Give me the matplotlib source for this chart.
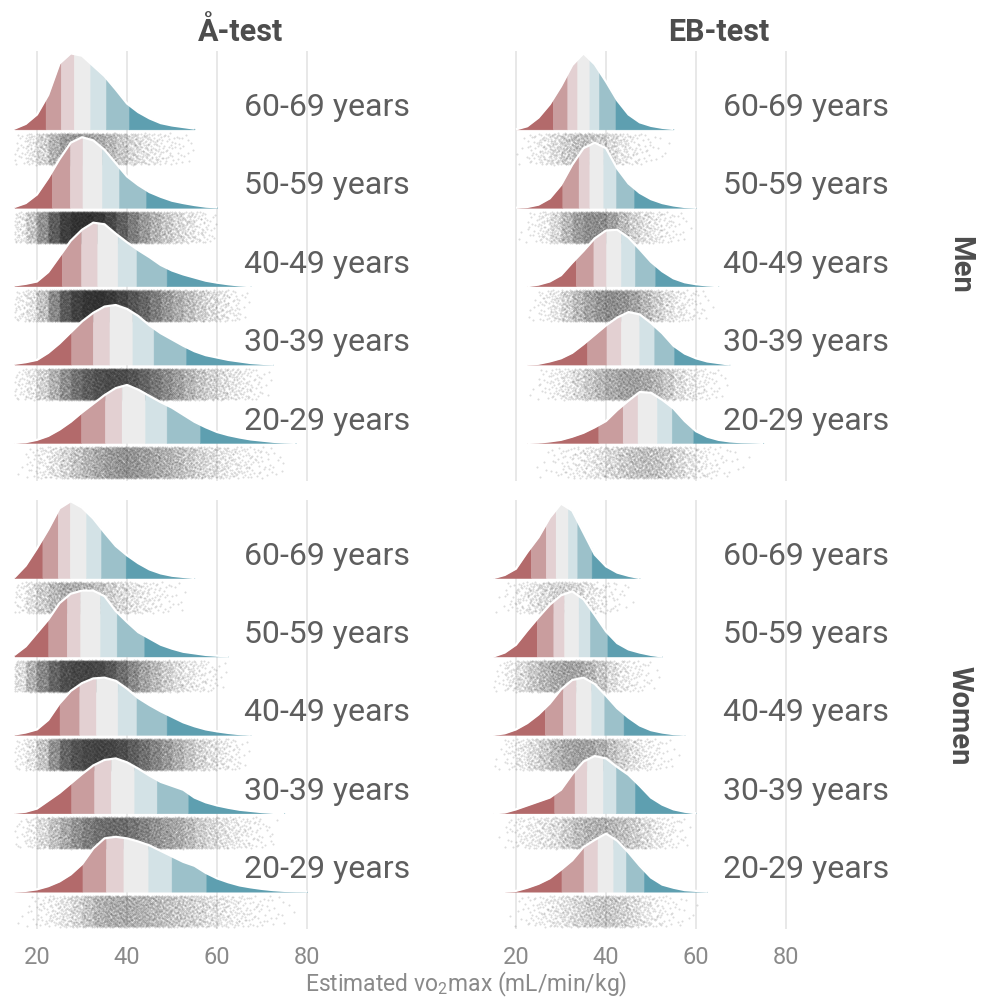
import numpy as np
import matplotlib.pyplot as plt

plt.rcParams['font.family'] = ['Roboto', 'DejaVu Sans']
plt.rcParams['mathtext.fontset'] = 'custom'
plt.rcParams['mathtext.rm'] = 'Roboto'

# rows from bottom to top
ages = ['20-29 years', '30-39 years', '40-49 years', '50-59 years', '60-69 years']
tests = ['Å-test', 'EB-test']
sexes = ['Men', 'Women']
step = 2.5  # density heights are read every 2.5 mL/min/kg

# Å-test, men
atest_men_start = [15, 15, 15, 15, 15]
atest_men_dens = [
    [0.0, 0.01, 0.04, 0.09, 0.17, 0.27, 0.39, 0.50, 0.61, 0.70, 0.74, 0.68, 0.60, 0.52, 0.45, 0.36,
     0.27, 0.20, 0.14, 0.10, 0.07, 0.045, 0.03, 0.015, 0.005, 0.0],
    [0.01, 0.03, 0.06, 0.15, 0.27, 0.41, 0.55, 0.66, 0.74, 0.76, 0.71, 0.62, 0.50, 0.40, 0.32, 0.24,
     0.17, 0.12, 0.09, 0.06, 0.04, 0.02, 0.01, 0.0],
    [0.01, 0.03, 0.06, 0.18, 0.38, 0.58, 0.72, 0.81, 0.79, 0.67, 0.56, 0.46, 0.37, 0.27, 0.20, 0.15,
     0.11, 0.07, 0.045, 0.025, 0.01, 0.0],
    [0.01, 0.06, 0.17, 0.38, 0.62, 0.83, 0.90, 0.86, 0.74, 0.57, 0.40, 0.29, 0.20, 0.14, 0.09, 0.06,
     0.035, 0.015, 0.005],
    [0.01, 0.07, 0.19, 0.44, 0.84, 0.97, 0.94, 0.81, 0.68, 0.51, 0.33, 0.22, 0.14, 0.08, 0.05, 0.03, 0.01],
]
atest_men_cuts = [
    [29.8, 35.1, 38.8, 44.0, 48.8, 56.2],
    [27.6, 32.4, 36.1, 41.2, 45.9, 53.1],
    [25.5, 29.8, 33.4, 37.9, 42.1, 48.8],
    [23.3, 27.3, 30.1, 34.4, 38.2, 44.2],
    [21.9, 25.3, 28.2, 31.8, 35.3, 40.4],
]
atest_men_n = [4000, 9000, 11000, 10000, 2600]

# EB-test, men
ebtest_men_start = [22.5, 22.5, 22.5, 20, 20]
ebtest_men_dens = [
    [0.0, 0.005, 0.02, 0.04, 0.08, 0.13, 0.20, 0.28, 0.42, 0.54, 0.65, 0.64, 0.55, 0.44, 0.28, 0.15,
     0.08, 0.04, 0.02, 0.01, 0.005, 0.0],
    [0.0, 0.01, 0.04, 0.08, 0.15, 0.26, 0.38, 0.50, 0.60, 0.67, 0.64, 0.53, 0.40, 0.24, 0.14, 0.08,
     0.04, 0.02, 0.0],
    [0.0, 0.02, 0.06, 0.14, 0.30, 0.45, 0.61, 0.71, 0.72, 0.62, 0.47, 0.31, 0.19, 0.10, 0.05, 0.025,
     0.01, 0.0],
    [0.0, 0.01, 0.04, 0.12, 0.29, 0.55, 0.76, 0.83, 0.76, 0.50, 0.31, 0.19, 0.11, 0.06, 0.03, 0.01, 0.0],
    [0.0, 0.04, 0.15, 0.32, 0.55, 0.82, 0.97, 0.83, 0.61, 0.37, 0.19, 0.09, 0.045, 0.02, 0.005],
]
ebtest_men_cuts = [
    [38.3, 43.7, 47.0, 51.3, 54.6, 59.4],
    [35.8, 40.1, 43.3, 47.4, 50.7, 55.1],
    [33.3, 37.2, 40.0, 43.3, 46.4, 50.9],
    [30.3, 33.9, 36.3, 39.4, 42.2, 46.2],
    [28.2, 31.4, 33.6, 36.3, 38.4, 42.1],
]
ebtest_men_n = [1500, 2600, 3000, 2600, 1100]

# Å-test, women
atest_women_start = [15, 15, 15, 15, 15]
atest_women_dens = [
    [0.0, 0.01, 0.03, 0.07, 0.13, 0.22, 0.35, 0.55, 0.68, 0.70, 0.68, 0.64, 0.59, 0.52, 0.45, 0.38,
     0.33, 0.24, 0.17, 0.12, 0.08, 0.055, 0.035, 0.02, 0.01, 0.005, 0.0],
    [0.005, 0.02, 0.06, 0.16, 0.26, 0.38, 0.50, 0.61, 0.68, 0.70, 0.65, 0.57, 0.48, 0.40, 0.35, 0.30,
     0.20, 0.14, 0.10, 0.07, 0.045, 0.03, 0.015, 0.005, 0.0],
    [0.005, 0.03, 0.07, 0.19, 0.40, 0.56, 0.66, 0.72, 0.73, 0.69, 0.59, 0.47, 0.38, 0.30, 0.23, 0.16,
     0.11, 0.07, 0.045, 0.025, 0.01, 0.0],
    [0.02, 0.13, 0.30, 0.47, 0.68, 0.80, 0.84, 0.84, 0.77, 0.58, 0.44, 0.31, 0.23, 0.15, 0.10, 0.06,
     0.04, 0.02, 0.01, 0.0],
    [0.01, 0.16, 0.38, 0.62, 0.89, 0.98, 0.90, 0.76, 0.58, 0.41, 0.29, 0.19, 0.11, 0.06, 0.03, 0.015, 0.0],
]
atest_women_cuts = [
    [30.1, 35.3, 39.2, 44.7, 49.9, 57.6],
    [27.6, 32.7, 36.4, 41.6, 46.6, 53.6],
    [25.0, 29.4, 33.1, 37.9, 42.1, 48.8],
    [22.5, 26.6, 29.6, 34.0, 37.7, 43.8],
    [21.2, 24.6, 27.3, 30.9, 34.2, 39.7],
]
atest_women_n = [3000, 6500, 9500, 8500, 2000]

# EB-test, women
ebtest_women_start = [17.5, 15, 15, 15, 15]
ebtest_women_dens = [
    [0.0, 0.01, 0.05, 0.10, 0.17, 0.28, 0.40, 0.57, 0.66, 0.74, 0.65, 0.50, 0.33, 0.18, 0.09, 0.05,
     0.02, 0.01, 0.0],
    [0.0, 0.01, 0.05, 0.10, 0.15, 0.20, 0.30, 0.50, 0.66, 0.73, 0.70, 0.59, 0.49, 0.35, 0.20, 0.11,
     0.05, 0.02, 0.0],
    [0.0, 0.02, 0.07, 0.15, 0.26, 0.40, 0.58, 0.70, 0.73, 0.65, 0.50, 0.34, 0.22, 0.12, 0.06, 0.03,
     0.01, 0.0],
    [0.0, 0.05, 0.15, 0.33, 0.50, 0.66, 0.78, 0.83, 0.73, 0.53, 0.32, 0.17, 0.09, 0.05, 0.02, 0.0],
    [0.0, 0.04, 0.12, 0.33, 0.52, 0.77, 0.95, 0.86, 0.58, 0.30, 0.15, 0.07, 0.03, 0.0],
]
ebtest_women_cuts = [
    [30.1, 35.0, 38.1, 41.6, 44.4, 48.4],
    [28.5, 33.0, 35.7, 39.3, 42.2, 46.4],
    [26.4, 30.4, 33.3, 36.7, 39.6, 43.9],
    [24.6, 28.3, 30.7, 33.9, 36.4, 40.3],
    [23.3, 26.6, 28.8, 31.5, 33.6, 36.8],
]
ebtest_women_n = [1200, 2000, 2400, 2200, 750]

band_colors = ['#b36a6b', '#c99d9e', '#e3d0d2', '#ececec', '#d3e2e6', '#9cc1ca', '#5e9fb0']

panels = {
    ('Men', 'Å-test'): (atest_men_start, atest_men_dens, atest_men_cuts, atest_men_n),
    ('Men', 'EB-test'): (ebtest_men_start, ebtest_men_dens, ebtest_men_cuts, ebtest_men_n),
    ('Women', 'Å-test'): (atest_women_start, atest_women_dens, atest_women_cuts, atest_women_n),
    ('Women', 'EB-test'): (ebtest_women_start, ebtest_women_dens, ebtest_women_cuts, ebtest_women_n),
}


def halton(n, base):
    # deterministic low-discrepancy sequence used for the jitter
    idx = np.arange(1, n + 1)
    out = np.zeros(n)
    f = 1.0
    while idx.any():
        f /= base
        out += f * (idx % base)
        idx //= base
    return out


fig = plt.figure(figsize=(9.87, 9.99), dpi=100)
lefts = [14.5 / 987, 493.5 / 987]
bottoms = [1 - 480.6 / 999, 1 - 929.3 / 999]
w, h = 451.5 / 987, 429.6 / 999

for r, sex in enumerate(sexes):
    for c, test in enumerate(tests):
        ax = fig.add_axes([lefts[c], bottoms[r], w, h])
        start, dens, cuts, ns = panels[(sex, test)]
        for i in range(5):
            xs = start[i] + step * np.arange(len(dens[i]))
            ys = np.array(dens[i])
            z = 10 + (4 - i) * 3
            edges = [xs[0]] + cuts[i] + [xs[-1]]
            for k in range(7):
                lo, hi = edges[k], edges[k + 1]
                bx = np.concatenate([[lo], xs[(xs > lo) & (xs < hi)], [hi]])
                by = np.interp(bx, xs, ys)
                ax.fill_between(bx, i, i + by, facecolor=band_colors[k],
                                edgecolor=band_colors[k], lw=0.3, zorder=z + 1)
            ax.plot(xs, i + ys, color='white', lw=1.6, zorder=z + 2,
                    solid_capstyle='butt')

            # jittered observations placed by the density's cumulative shape
            cdf = np.concatenate([[0], np.cumsum((ys[1:] + ys[:-1]) / 2)])
            cdf = cdf / cdf[-1]
            u = halton(ns[i], 2)
            v = halton(ns[i], 3)
            px = np.interp(u, cdf, xs)
            py = i - 0.05 - 0.40 * v
            ax.scatter(px, py, s=2.2, c='#1a1a1a', alpha=0.15, linewidths=0, zorder=z)

            ax.text(66, i + 0.28, ages[i], fontsize=23, color='#5e5e5e',
                    ha='left', va='center', zorder=100)

        ax.set_xlim(15, 115.33)
        ax.set_ylim(-0.48, 5.0)
        ax.set_xticks([20, 40, 60, 80])
        ax.set_yticks([])
        ax.grid(axis='x', color='#e8e8e8', lw=1.4)
        ax.set_axisbelow(True)
        for s in ax.spines.values():
            s.set_visible(False)
        ax.tick_params(axis='x', length=0, pad=12, labelsize=17, labelcolor='#8a8a8a',
                       labelbottom=(r == 1))
        if r == 0:
            ax.set_title(test, fontsize=22, fontweight='bold', color='#4d4d4d', pad=7)

fig.text(960 / 987, 1 - 265 / 999, 'Men', rotation=-90, fontsize=21, fontweight='bold',
         color='#4d4d4d', ha='center', va='center')
fig.text(960 / 987, 1 - 716 / 999, 'Women', rotation=-90, fontsize=21, fontweight='bold',
         color='#4d4d4d', ha='center', va='center')
fig.text(466 / 987, 1 - 984 / 999, r'Estimated vo$_2$max (mL/min/kg)', fontsize=16.5,
         color='#8a8a8a', ha='center', va='center')

fig.savefig('out.png', dpi=100)
